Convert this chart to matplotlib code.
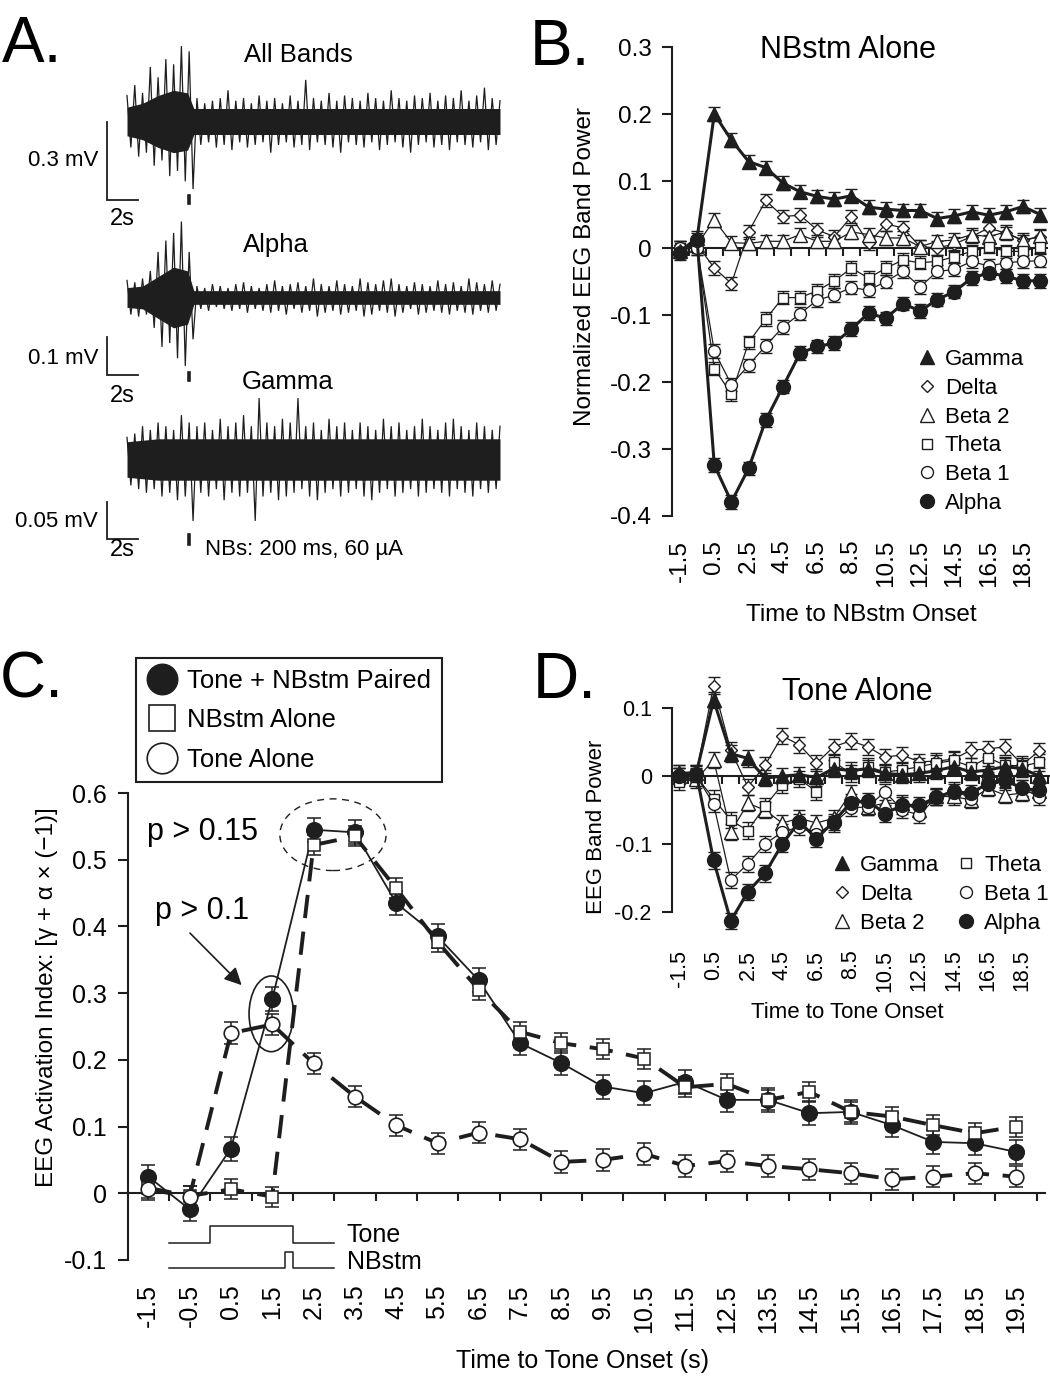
import numpy as np
import matplotlib
matplotlib.use("Agg")
import matplotlib.pyplot as plt
from matplotlib.lines import Line2D
from matplotlib.patches import Ellipse

plt.rcParams['font.family'] = ['Liberation Sans', 'DejaVu Sans']
plt.rcParams['axes.unicode_minus'] = False

W, H = 1050, 1376
INK = '#1e1e1e'

# ---------------- data ----------------
# panel A: envelope of the raw traces (mV), 0.5 s steps, -4 s .. 20 s around NB onset
trace_t = np.arange(-4, 20.5, 0.5)
all_up = [0.10, 0.14, 0.11, 0.21, 0.17, 0.24, 0.22, 0.29, 0.27,
          0.09, 0.07, 0.08, 0.09, 0.12, 0.08, 0.09, 0.07, 0.10, 0.08,
          0.09, 0.07, 0.10, 0.08, 0.16, 0.09, 0.08, 0.11, 0.08, 0.10,
          0.09, 0.08, 0.11, 0.09, 0.08, 0.12, 0.09, 0.08, 0.10, 0.09,
          0.11, 0.08, 0.10, 0.09, 0.12, 0.08, 0.10, 0.13, 0.09, 0.08]
all_low = [-0.10, -0.135, -0.12, -0.17, -0.15, -0.21, -0.19, -0.23, -0.26,
           -0.09, -0.08, -0.10, -0.09, -0.11, -0.08, -0.10, -0.09, -0.08, -0.12,
           -0.09, -0.08, -0.10, -0.09, -0.11, -0.08, -0.09, -0.10, -0.12, -0.08,
           -0.09, -0.10, -0.08, -0.11, -0.09, -0.08, -0.10, -0.12, -0.09, -0.08,
           -0.10, -0.09, -0.11, -0.08, -0.09, -0.10, -0.08, -0.11, -0.09, -0.07]
alpha_up = [0.045, 0.04, 0.05, 0.07, 0.12, 0.15, 0.17, 0.20, 0.12,
            0.03, 0.025, 0.035, 0.03, 0.025, 0.035, 0.04, 0.03, 0.025, 0.035,
            0.045, 0.03, 0.035, 0.04, 0.03, 0.05, 0.035, 0.03, 0.045, 0.035,
            0.03, 0.05, 0.04, 0.035, 0.045, 0.05, 0.035, 0.03, 0.04, 0.035,
            0.03, 0.045, 0.035, 0.04, 0.03, 0.05, 0.04, 0.035, 0.045, 0.035]
alpha_low = [-0.045, -0.05, -0.045, -0.08, -0.13, -0.12, -0.16, -0.18, -0.11,
             -0.03, -0.035, -0.025, -0.03, -0.035, -0.03, -0.04, -0.03, -0.035, -0.04,
             -0.035, -0.045, -0.03, -0.04, -0.035, -0.05, -0.04, -0.035, -0.045, -0.04,
             -0.035, -0.05, -0.045, -0.035, -0.04, -0.05, -0.04, -0.03, -0.045, -0.04,
             -0.035, -0.04, -0.045, -0.035, -0.04, -0.045, -0.035, -0.04, -0.035, -0.03]
gamma_up = [0.03, 0.035, 0.045, 0.04, 0.05, 0.045, 0.04, 0.06, 0.05,
            0.045, 0.05, 0.04, 0.055, 0.045, 0.05, 0.06, 0.045, 0.083, 0.05,
            0.045, 0.055, 0.05, 0.083, 0.045, 0.05, 0.04, 0.055, 0.045, 0.05,
            0.04, 0.05, 0.045, 0.04, 0.055, 0.045, 0.05, 0.04, 0.045, 0.055,
            0.045, 0.04, 0.05, 0.055, 0.045, 0.04, 0.05, 0.045, 0.04, 0.045]
gamma_low = [-0.035, -0.04, -0.045, -0.04, -0.05, -0.045, -0.055, -0.05, -0.083,
             -0.045, -0.05, -0.04, -0.055, -0.045, -0.05, -0.045, -0.083, -0.05, -0.045,
             -0.055, -0.05, -0.045, -0.04, -0.05, -0.055, -0.045, -0.04, -0.05, -0.045,
             -0.04, -0.05, -0.055, -0.045, -0.04, -0.05, -0.045, -0.04, -0.05, -0.045,
             -0.04, -0.045, -0.05, -0.04, -0.045, -0.05, -0.04, -0.045, -0.04, -0.035]
# half-width of the dense dark core of each trace (mV)
core_t = [-4.0, -3.0, -2.0, -1.0, -0.1, 0.3, 20.0]
all_core = [0.055, 0.07, 0.10, 0.12, 0.11, 0.05, 0.05]
alpha_core = [0.026, 0.03, 0.055, 0.08, 0.07, 0.018, 0.018]
gamma_core = [0.024, 0.026, 0.028, 0.028, 0.028, 0.028, 0.028]
stim_t = 0.0

# bin centres (s)
band_t = [-1.5, -0.5, 0.5, 1.5, 2.5, 3.5, 4.5, 5.5, 6.5, 7.5, 8.5,
          9.5, 10.5, 11.5, 12.5, 13.5, 14.5, 15.5, 16.5, 17.5, 18.5, 19.5]

# panel B: NBstm alone, normalized band power
b_gamma = [-0.005, 0.015, 0.200, 0.161, 0.129, 0.120, 0.097, 0.084, 0.077, 0.073, 0.078,
           0.061, 0.058, 0.056, 0.056, 0.044, 0.048, 0.054, 0.049, 0.054, 0.062, 0.050]
b_delta = [-0.005, 0.005, -0.030, -0.053, 0.024, 0.071, 0.047, 0.049, 0.027, 0.017, 0.047,
           0.007, 0.036, 0.030, 0.002, 0.000, 0.006, 0.017, 0.030, 0.022, 0.012, 0.017]
b_beta2 = [0.000, 0.005, 0.042, 0.008, 0.007, 0.010, 0.010, 0.020, 0.010, 0.010, 0.024,
           0.020, 0.015, 0.015, 0.002, 0.010, 0.012, 0.020, 0.017, 0.024, 0.010, 0.018]
b_theta = [0.000, 0.000, -0.180, -0.218, -0.141, -0.106, -0.074, -0.074, -0.064, -0.049, -0.030,
           -0.045, -0.030, -0.018, -0.022, -0.020, -0.013, -0.005, 0.002, -0.005, -0.005, 0.002]
b_beta1 = [0.000, 0.000, -0.154, -0.204, -0.175, -0.146, -0.118, -0.098, -0.078, -0.070, -0.059,
           -0.063, -0.050, -0.035, -0.058, -0.035, -0.032, -0.020, -0.027, -0.022, -0.020, -0.019]
b_alpha = [-0.008, 0.012, -0.324, -0.379, -0.329, -0.257, -0.207, -0.157, -0.147, -0.142, -0.121,
           -0.097, -0.105, -0.083, -0.094, -0.077, -0.065, -0.045, -0.037, -0.042, -0.049, -0.049]
b_sem = 0.010

# panel D: tone alone
d_gamma = [0.004, 0.005, 0.112, 0.033, 0.026, -0.003, 0.000, 0.002, -0.002, 0.011, 0.008,
           0.011, 0.004, 0.002, 0.004, 0.008, 0.014, 0.006, 0.009, 0.014, 0.011, 0.000]
d_delta = [0.004, 0.005, 0.133, 0.038, -0.016, 0.016, 0.059, 0.046, 0.019, 0.043, 0.052,
           0.043, 0.028, 0.031, 0.021, 0.022, 0.025, 0.038, 0.040, 0.043, 0.017, 0.037]
d_beta2 = [0.000, -0.005, 0.024, -0.082, -0.040, -0.050, -0.069, -0.062, -0.069, -0.062, -0.025,
           -0.045, -0.040, -0.040, -0.050, -0.030, -0.030, -0.035, -0.018, -0.028, -0.025, -0.022]
d_theta = [-0.008, -0.001, -0.033, -0.065, -0.080, -0.044, -0.013, -0.004, -0.023, 0.021, 0.004,
           0.014, 0.006, 0.009, 0.014, 0.019, 0.023, 0.014, 0.027, 0.016, 0.015, 0.020]
d_beta1 = [0.000, 0.000, -0.041, -0.153, -0.129, -0.100, -0.082, -0.075, -0.085, -0.070, -0.047,
           -0.045, -0.023, -0.050, -0.057, -0.031, -0.020, -0.033, -0.006, -0.008, -0.018, -0.031]
d_alpha = [0.000, 0.003, -0.124, -0.213, -0.170, -0.143, -0.100, -0.067, -0.092, -0.067, -0.039,
           -0.037, -0.055, -0.043, -0.043, -0.031, -0.023, -0.025, -0.011, -0.006, -0.018, -0.021]
d_sem = 0.012

# panel C: activation index
c_paired = [0.025, -0.024, 0.067, 0.291, 0.545, 0.541, 0.435, 0.385, 0.319, 0.225, 0.195,
            0.160, 0.150, 0.167, 0.140, 0.140, 0.120, 0.122, 0.102, 0.077, 0.075, 0.062]
c_nbstm = [0.008, -0.004, 0.006, -0.005, 0.522, 0.535, 0.457, 0.377, 0.305, 0.242, 0.225,
           0.216, 0.202, 0.159, 0.164, 0.140, 0.152, 0.122, 0.115, 0.102, 0.090, 0.100]
c_tone = [0.006, -0.005, 0.240, 0.253, 0.195, 0.145, 0.102, 0.075, 0.091, 0.081, 0.047,
          0.050, 0.059, 0.041, 0.048, 0.041, 0.036, 0.030, 0.021, 0.025, 0.030, 0.025]
c_sem_paired, c_sem_nbstm, c_sem_tone = 0.018, 0.015, 0.016
tone_on, tone_off = 0.0, 2.0
nb_on, nb_off = 1.8, 2.0
marker_start, marker_end = -1.0, 3.0

band_names = ['Gamma', 'Delta', 'Beta 2', 'Theta', 'Beta 1', 'Alpha']

# ---------------- helpers ----------------
fig = plt.figure(figsize=(W / 100, H / 100), dpi=100)


def add_ax(x0, y0, x1, y1):
    ax = fig.add_axes([x0 / W, 1 - y1 / H, (x1 - x0) / W, (y1 - y0) / H])
    ax.set_facecolor('none')
    return ax


def ftext(x, y, s, **kw):
    return fig.text(x / W, 1 - y / H, s, **kw)


def fpos(x, y):
    return (x / W, 1 - y / H)


styles = {
    'Gamma': dict(marker='^', ms=10, mfc=INK, lw=2.2),
    'Delta': dict(marker='D', ms=6.3, mfc='white', lw=0.9),
    'Beta 2': dict(marker='^', ms=10, mfc='white', lw=0.9),
    'Theta': dict(marker='s', ms=7.8, mfc='white', lw=0.9),
    'Beta 1': dict(marker='o', ms=8.6, mfc='white', lw=0.9),
    'Alpha': dict(marker='o', ms=10, mfc=INK, lw=2.2),
}
draw_order = ['Delta', 'Beta 2', 'Theta', 'Beta 1', 'Gamma', 'Alpha']


def eeg_axes(top, bot, mid, px_per_mv):
    ax = add_ax(100, top, 505, bot)
    ax.set_xlim(-4 - 27 / 15.54, 20 + 5 / 15.54)
    ax.set_ylim(-(bot - mid) / px_per_mv, (mid - top) / px_per_mv)
    ax.axis('off')
    return ax


def draw_trace(ax, up, low, core, bar_top, bar_size, tick_lo, tick_hi):
    core = np.array(core)
    ax.fill_between(core_t, -core, core, color=INK, lw=0)
    # swing between the upper and lower envelope every quarter second
    xs = np.ravel(np.column_stack([trace_t, trace_t + 0.25]))[:-1]
    ys = np.ravel(np.column_stack([up, low]))[:-1]
    ax.plot(xs, ys, color=INK, lw=0.9, solid_joinstyle='miter')
    bx = -5.29
    ax.plot([bx, bx, bx + 2], [bar_top, bar_top - bar_size, bar_top - bar_size],
            color=INK, lw=1.3, solid_joinstyle='miter', clip_on=False)
    ax.plot([stim_t, stim_t], [tick_lo, tick_hi], color=INK, lw=2.6, clip_on=False)


def band_panel(ax, series, sem, tick_fs, xlim, ylim, bounds, yticks):
    ax.set_xlim(*xlim)
    ax.set_ylim(*ylim)
    for name in draw_order:
        st = styles[name]
        ax.errorbar(band_t, series[name], yerr=sem, fmt='none', ecolor=INK,
                    elinewidth=1.0, capsize=4, capthick=1.0, zorder=2, clip_on=False)
        ax.plot(band_t, series[name], color=INK, lw=st['lw'], marker=st['marker'],
                ms=st['ms'], mfc=st['mfc'], mec=INK, mew=1.0, zorder=3, clip_on=False)
    for s in ['top', 'right']:
        ax.spines[s].set_visible(False)
    ax.spines['left'].set_bounds(*bounds)
    ax.spines['bottom'].set_position(('data', 0))
    for s in ['left', 'bottom']:
        ax.spines[s].set_linewidth(1.5)
        ax.spines[s].set_color(INK)
    ax.set_yticks(yticks, labels=['0' if abs(v) < 1e-9 else f'{v:.1f}' for v in yticks])
    ax.tick_params(axis='y', direction='out', length=7, width=1.5, pad=7.5,
                   labelsize=tick_fs, color=INK)
    ax.set_xticks(np.arange(-1, int(xlim[1]) + 1))
    ax.tick_params(axis='x', direction='out', length=6, width=1.5, labelbottom=False, color=INK)
    sec = ax.secondary_xaxis(0.0)
    labs = band_t[::2][:11]
    sec.set_xticks(labs, labels=[f'{v:.1f}' for v in labs], rotation=90, fontsize=tick_fs)
    sec.tick_params(length=0, pad=7)
    sec.spines['bottom'].set_visible(False)
    return sec


def band_handles():
    return [Line2D([], [], ls='none', marker=styles[n]['marker'], ms=styles[n]['ms'],
                   mfc=styles[n]['mfc'], mec=INK, mew=1.0) for n in band_names]


# ---------------- panel A ----------------
axA1 = eeg_axes(30, 235, 121.5, 260.0)
draw_trace(axA1, all_up, all_low, all_core, 0.0, 0.3, -0.285, -0.315)
axA2 = eeg_axes(215, 385, 297.5, 380.0)
draw_trace(axA2, alpha_up, alpha_low, alpha_core, -0.105, 0.1, -0.198, -0.216)
axA3 = eeg_axes(385, 545, 459.5, 740.0)
draw_trace(axA3, gamma_up, gamma_low, gamma_core, -0.057, 0.05, -0.102, -0.114)

ftext(298, 55, 'All Bands', ha='center', va='center', fontsize=18.5)
ftext(276, 245, 'Alpha', ha='center', va='center', fontsize=18.5)
ftext(288, 382, 'Gamma', ha='center', va='center', fontsize=18.5)
ftext(98, 160, '0.3 mV', ha='right', va='center', fontsize=16)
ftext(98, 358, '0.1 mV', ha='right', va='center', fontsize=16)
ftext(98, 521, '0.05 mV', ha='right', va='center', fontsize=16)
for yy in [219, 396, 550]:
    ftext(122, yy, '2s', ha='center', va='center', fontsize=17)
ftext(205, 550, 'NBs: 200 ms, 60 µA', ha='left', va='center', fontsize=16)

# ---------------- panel C ----------------
axC = add_ax(128, 775, 1045, 1275)
axC.set_zorder(1)
axC.set_xlim(-1.99, 20.2)
axC.set_ylim(-0.1225, 0.627)
dash = (0, (6, 3.5))
axC.errorbar(band_t, c_paired, yerr=c_sem_paired, fmt='none', ecolor=INK, elinewidth=1.1,
             capsize=5, capthick=1.1, zorder=2, clip_on=False)
axC.plot(band_t, c_paired, color=INK, lw=1.3, marker='o', ms=11.3, mfc=INK, mec=INK,
         zorder=3, clip_on=False)
axC.errorbar(band_t, c_nbstm, yerr=c_sem_nbstm, fmt='none', ecolor=INK, elinewidth=1.1,
             capsize=5, capthick=1.1, zorder=4, clip_on=False)
axC.plot(band_t, c_nbstm, color=INK, lw=2.8, ls=dash, dash_capstyle='butt', marker='s',
         ms=9, mfc='white', mec=INK, mew=1.1, zorder=5, clip_on=False)
axC.errorbar(band_t, c_tone, yerr=c_sem_tone, fmt='none', ecolor=INK, elinewidth=1.1,
             capsize=5, capthick=1.1, zorder=4, clip_on=False)
axC.plot(band_t, c_tone, color=INK, lw=2.8, ls=dash, dash_capstyle='butt', marker='o',
         ms=10.5, mfc='white', mec=INK, mew=1.2, zorder=5, clip_on=False)

for s in ['top', 'right']:
    axC.spines[s].set_visible(False)
axC.spines['left'].set_bounds(-0.1, 0.6)
axC.spines['bottom'].set_position(('data', 0))
for s in ['left', 'bottom']:
    axC.spines[s].set_linewidth(1.5)
    axC.spines[s].set_color(INK)
cy = [-0.1, 0.0, 0.1, 0.2, 0.3, 0.4, 0.5, 0.6]
axC.set_yticks(cy, labels=['0' if abs(v) < 1e-9 else f'{v:.1f}' for v in cy])
axC.tick_params(axis='y', direction='out', length=7, width=1.5, pad=8, labelsize=18, color=INK)
axC.set_xticks(np.arange(-1, 21))
axC.tick_params(axis='x', direction='out', length=6, width=1.5, labelbottom=False, color=INK)
secC = axC.secondary_xaxis(0.0)
secC.set_xticks(band_t, labels=[f'{v:.1f}' for v in band_t], rotation=90, fontsize=18)
secC.tick_params(length=0, pad=6.5)
secC.spines['bottom'].set_visible(False)
secC.set_xlabel('Time to Tone Onset (s)', fontsize=18)
secC.xaxis.set_label_coords(*fpos(583, 1361), transform=fig.transFigure)
secC.xaxis.label.set_va('center')
axC.set_ylabel('EEG Activation Index: [γ + α × (−1)]', fontsize=17.5)
axC.yaxis.set_label_coords(*fpos(47, 997), transform=fig.transFigure)
axC.yaxis.label.set_va('center')

# tone / NBstm timing schematic
axC.plot([marker_start, tone_on, tone_on, tone_off, tone_off, marker_end],
         [-0.074, -0.074, -0.049, -0.049, -0.074, -0.074], color=INK, lw=1.1, clip_on=False)
axC.plot([marker_start, nb_on, nb_on, nb_off, nb_off, marker_end],
         [-0.112, -0.112, -0.088, -0.088, -0.112, -0.112], color=INK, lw=1.1, clip_on=False)
axC.text(3.3, -0.0625, 'Tone', ha='left', va='center', fontsize=18)
axC.text(3.3, -0.1025, 'NBstm', ha='left', va='center', fontsize=18)

# significance annotations
axC.add_patch(Ellipse((2.97, 0.5375), 2.57, 0.1075, fill=False, ec=INK, lw=1.0,
                      ls=(0, (5, 4)), zorder=6))
axC.add_patch(Ellipse((1.476, 0.269), 1.073, 0.1135, fill=False, ec=INK, lw=1.2, zorder=6))
axC.text(-1.54, 0.5297, 'p > 0.15', ha='left', va='baseline', fontsize=22)
axC.text(-1.34, 0.411, 'p > 0.1', ha='left', va='baseline', fontsize=22)
axC.annotate('', xy=(0.76, 0.312), xytext=(-0.49, 0.390),
             arrowprops=dict(arrowstyle='-|>', color=INK, lw=1.2, mutation_scale=26,
                             shrinkA=0, shrinkB=0))

c_handles = [Line2D([], [], ls='none', marker='o', ms=22, mfc=INK, mec=INK),
             Line2D([], [], ls='none', marker='s', ms=18.5, mfc='white', mec=INK, mew=1.2),
             Line2D([], [], ls='none', marker='o', ms=22, mfc='white', mec=INK, mew=1.2)]
legC = axC.legend(c_handles, ['Tone + NBstm Paired', 'NBstm Alone', 'Tone Alone'],
                  loc='upper left', bbox_to_anchor=fpos(136, 658), bbox_transform=fig.transFigure,
                  fontsize=18.5, handlelength=1.2, handletextpad=0.37, borderpad=0.42,
                  labelspacing=0.6, borderaxespad=0, fancybox=False, framealpha=1,
                  facecolor='white', edgecolor=INK)
legC.get_frame().set_linewidth(1.5)

# ---------------- panel B ----------------
axB = add_ax(672, 30, 1047, 530)
b_series = dict(zip(band_names, [b_gamma, b_delta, b_beta2, b_theta, b_beta1, b_alpha]))
secB = band_panel(axB, b_series, b_sem, 17.5, (-1.966, 19.9), (-0.4209, 0.3254),
                  (-0.4, 0.3), [-0.4, -0.3, -0.2, -0.1, 0.0, 0.1, 0.2, 0.3])
axB.set_ylabel('Normalized EEG Band Power', fontsize=17.5)
axB.yaxis.set_label_coords(*fpos(585, 267), transform=fig.transFigure)
axB.yaxis.label.set_va('center')
secB.set_xlabel('Time to NBstm Onset', fontsize=17.5)
secB.xaxis.set_label_coords(*fpos(861, 615), transform=fig.transFigure)
secB.xaxis.label.set_va('center')
ftext(848, 50, 'NBstm Alone', ha='center', va='center', fontsize=22)
axB.legend(band_handles(), band_names, loc='upper left', bbox_to_anchor=fpos(918, 349),
           bbox_transform=fig.transFigure, frameon=False, fontsize=16, handlelength=0.8,
           handletextpad=0.41, labelspacing=0.35, borderpad=0, borderaxespad=0)

# ---------------- panel D ----------------
axD = add_ax(672, 670, 1050, 940)
axD.set_zorder(2)
d_series = dict(zip(band_names, [d_gamma, d_delta, d_beta2, d_theta, d_beta1, d_alpha]))
secD = band_panel(axD, d_series, d_sem, 15.5, (-1.926, 20.12), (-0.241, 0.156),
                  (-0.2, 0.1), [-0.2, -0.1, 0.0, 0.1])
axD.set_ylabel('EEG Band Power', fontsize=16)
axD.yaxis.set_label_coords(*fpos(597, 827), transform=fig.transFigure)
axD.yaxis.label.set_va('center')
secD.set_xlabel('Time to Tone Onset', fontsize=16)
secD.xaxis.set_label_coords(*fpos(847, 1013), transform=fig.transFigure)
secD.xaxis.label.set_va('center')
ftext(857, 692, 'Tone Alone', ha='center', va='center', fontsize=22)
axD.legend(band_handles(), band_names, loc='upper left', bbox_to_anchor=fpos(833, 855),
           bbox_transform=fig.transFigure, frameon=False, fontsize=16, ncol=2,
           handlelength=0.8, handletextpad=0.41, labelspacing=0.35, columnspacing=0.81,
           borderpad=0, borderaxespad=0)

# panel letters
for lab, x, y in [('A.', 2, 62), ('B.', 530, 65), ('C.', 0, 698), ('D.', 533, 698)]:
    ftext(x, y, lab, ha='left', va='baseline', fontsize=46)

fig.savefig('out.png', dpi=100)
